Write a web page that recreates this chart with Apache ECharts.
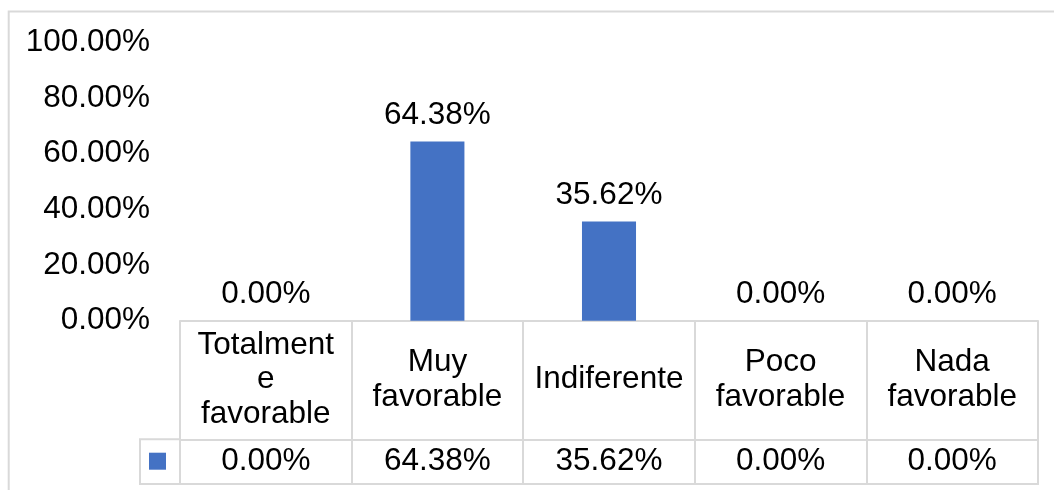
<!DOCTYPE html>
<html>
<head>
<meta charset="utf-8">
<script src="https://cdn.jsdelivr.net/npm/echarts@6/dist/echarts.min.js"></script>
<style>
html,body{margin:0;padding:0;background:#fff;}
#chart{width:1054px;height:490px;}
</style>
</head>
<body>
<div id="chart"></div>
<script>
const categories = ['Totalment\ne\nfavorable', 'Muy\nfavorable', 'Indiferente', 'Poco\nfavorable', 'Nada\nfavorable'];
const values = [0.00, 64.38, 35.62, 0.00, 0.00];
const yTicks = [0, 20, 40, 60, 80, 100];
const seriesName = 'Serie 1';

const FONT = '"Liberation Sans", Arial, sans-serif';
const FS = 31.5;
const GRID_COLOR = '#d9d9d9';
const fmt = v => Number(v).toFixed(2) + '%';

const chart = echarts.init(document.getElementById('chart'));
chart.setOption({
  animation: false,
  textStyle: { fontFamily: FONT },
  grid: { left: 180, right: 16, top: 42.5, bottom: 169.3, containLabel: false },
  legend: {
    data: [seriesName],
    left: 144, top: 447.7, padding: 5,
    icon: 'rect',
    itemWidth: 17, itemHeight: 17,
    formatter: () => '',
    selectedMode: false
  },
  xAxis: [
    {
      type: 'category', data: categories, position: 'bottom',
      axisLine: { show: true, lineStyle: { color: GRID_COLOR, width: 2 } },
      axisTick: { show: true, length: 164, interval: 0, alignWithLabel: false, lineStyle: { color: GRID_COLOR, width: 2 } },
      axisLabel: { interval: 0, margin: 59, verticalAlign: 'middle', lineHeight: 34.5, fontSize: FS, color: '#000', fontFamily: FONT }
    },
    {
      type: 'category', data: categories, position: 'bottom', offset: 118.6,
      axisLine: { show: true, lineStyle: { color: GRID_COLOR, width: 2 } },
      axisTick: { show: false },
      axisLabel: { interval: 0, margin: 22.5, verticalAlign: 'middle', fontSize: FS, color: '#000', fontFamily: FONT,
        formatter: (v, i) => fmt(values[i]) }
    },
    {
      type: 'category', data: categories, position: 'bottom', offset: 163.3,
      axisLine: { show: true, lineStyle: { color: GRID_COLOR, width: 2 } },
      axisTick: { show: false },
      axisLabel: { show: false }
    }
  ],
  yAxis: {
    type: 'value', min: yTicks[0], max: yTicks[yTicks.length - 1], interval: 20,
    axisLine: { show: false }, axisTick: { show: false }, splitLine: { show: false },
    axisLabel: { margin: 30, fontSize: FS, color: '#000', fontFamily: FONT, formatter: v => fmt(v) }
  },
  graphic: [
    { type: 'rect', silent: true, shape: { x: 8.7, y: 11.5, width: 1200, height: 700 },
      style: { fill: 'none', stroke: GRID_COLOR, lineWidth: 2 } },
    { type: 'polyline', silent: true, shape: { points: [[180, 439.3], [140, 439.3], [140, 484], [180, 484]] },
      style: { fill: 'none', stroke: GRID_COLOR, lineWidth: 2 } }
  ],
  series: [{
    name: seriesName, type: 'bar', data: values, barWidth: '31.5%',
    itemStyle: { color: '#4472C4' },
    label: { show: true, position: 'top', distance: 10, fontSize: FS, color: '#000', fontFamily: FONT, formatter: p => fmt(p.value) }
  }]
});
</script>
</body>
</html>
